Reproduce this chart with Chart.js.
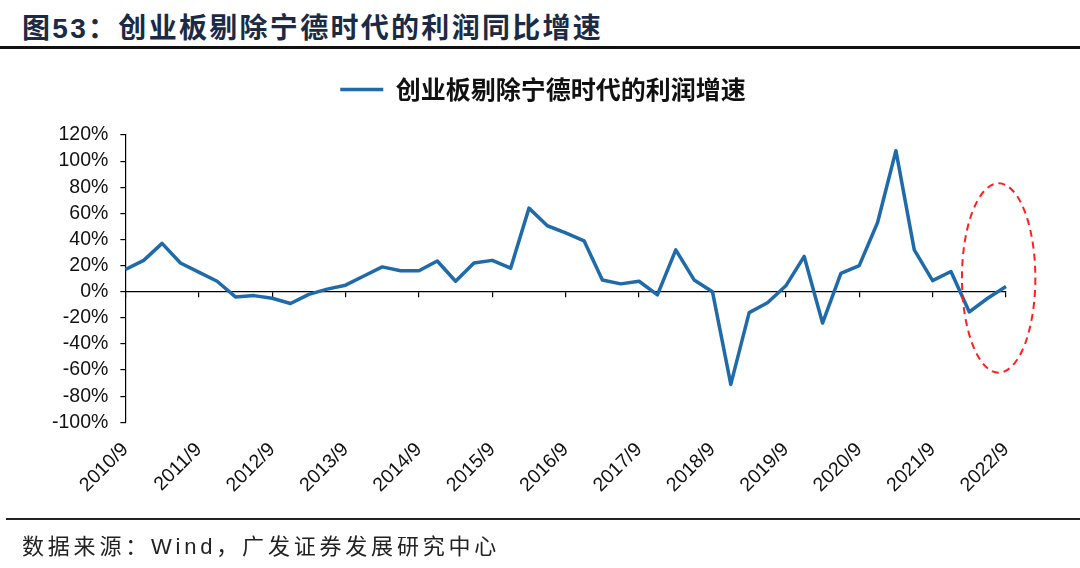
<!DOCTYPE html>
<html>
<head>
<meta charset="utf-8">
<script src="https://cdn.jsdelivr.net/npm/chart.js@4.4.0/dist/chart.umd.min.js"></script>
<style>
  html, body { margin: 0; padding: 0; background: #fff; }
  #page { position: relative; width: 1080px; height: 568px; overflow: hidden; font-family: "Liberation Sans", "Noto Sans CJK SC", sans-serif; }
  #title { position: absolute; left: 22px; top: 6px; font-size: 28px; font-weight: bold; color: #1b2a45; letter-spacing: 2.3px; white-space: nowrap; }
  #rule-top { position: absolute; left: 0; top: 46px; width: 1080px; height: 2.5px; background: #111; }
  #rule-bottom { position: absolute; left: 6px; top: 518px; width: 1074px; height: 1.5px; background: #222; }
  #source { position: absolute; left: 22px; top: 528px; font-size: 22px; color: #222; letter-spacing: 3.8px; white-space: nowrap; }
  #chart-canvas { position: absolute; left: 0; top: 0; }
</style>
</head>
<body>
<div id="page">
  <div id="title">图53：创业板剔除宁德时代的利润同比增速</div>
  <div id="rule-top"></div>
  <canvas id="chart-canvas" width="1080" height="568"></canvas>
  <div id="rule-bottom"></div>
  <div id="source">数据来源：Wind，广发证券发展研究中心</div>
</div>
<script>
const categories = [
  "2010/9", "2010/12", "2011/3", "2011/6",
  "2011/9", "2011/12", "2012/3", "2012/6",
  "2012/9", "2012/12", "2013/3", "2013/6",
  "2013/9", "2013/12", "2014/3", "2014/6",
  "2014/9", "2014/12", "2015/3", "2015/6",
  "2015/9", "2015/12", "2016/3", "2016/6",
  "2016/9", "2016/12", "2017/3", "2017/6",
  "2017/9", "2017/12", "2018/3", "2018/6",
  "2018/9", "2018/12", "2019/3", "2019/6",
  "2019/9", "2019/12", "2020/3", "2020/6",
  "2020/9", "2020/12", "2021/3", "2021/6",
  "2021/9", "2021/12", "2022/3", "2022/6",
  "2022/9"
];

const profitGrowth = [
  17, 24, 37, 22,
  15, 8, -4, -3,
  -5, -9, -2, 2,
  5, 12, 19, 16,
  16, 23.5, 8, 22,
  24, 18, 64, 50.5,
  45, 39, 9, 6,
  8, -2.5, 32, 9,
  0, -71, -16, -8.5,
  4.5, 27, -24, 14,
  20, 53, 108, 32,
  8.5, 15.5, -15.5, -5,
  4
];

const seriesName = "创业板剔除宁德时代的利润增速";
const yTicks = [-100, -80, -60, -40, -20, 0, 20, 40, 60, 80, 100, 120];

const blue = "#1f6aa8";
const tickFont = { family: "Liberation Sans", size: 19.5 };

// dashed red ring round the last quarters
const focusEllipse = {
  id: "focusEllipse",
  afterDatasetsDraw(chart) {
    const { ctx, scales } = chart;
    const left = scales.x.getPixelForValue(45.6);
    const right = scales.x.getPixelForValue(49.6);
    const top = scales.y.getPixelForValue(83);
    const bottom = scales.y.getPixelForValue(-62);
    ctx.save();
    ctx.beginPath();
    ctx.ellipse((left + right) / 2, (top + bottom) / 2, (right - left) / 2, (bottom - top) / 2, 0, 0, Math.PI * 2);
    ctx.setLineDash([7, 5]);
    ctx.strokeStyle = "#ff1f1f";
    ctx.lineWidth = 2;
    ctx.stroke();
    ctx.restore();
  },
};

// empty axes only used to reserve space
const spacer = {
  grid: { display: false, drawTicks: false },
  border: { display: false },
  ticks: { display: false },
};

const canvas = document.getElementById("chart-canvas");

new Chart(canvas, {
  type: "line",
  data: {
    labels: categories,
    datasets: [
      {
        label: seriesName,
        data: profitGrowth,
        borderColor: blue,
        backgroundColor: blue,
        borderWidth: 3.5,
        borderJoinStyle: "round",
        pointRadius: 0,
        tension: 0,
        clip: false,
      },
    ],
  },
  options: {
    responsive: false,
    animation: false,
    layout: {
      padding: { top: 45, left: 40, right: 34, bottom: 55 },
    },
    plugins: {
      legend: {
        position: "top",
        labels: {
          usePointStyle: true,
          pointStyle: "line",
          pointStyleWidth: 43,
          font: { family: "Noto Sans CJK SC", size: 25, weight: "bold" },
          color: "#111",
          padding: 32,
        },
      },
      tooltip: { enabled: false },
    },
    scales: {
      x: {
        position: { y: 0 },
        ticks: { display: false, autoSkip: false },
        grid: {
          drawOnChartArea: false,
          drawTicks: true,
          tickLength: 5,
          lineWidth: 1.2,
          color: (context) => (context.index % 4 === 0 ? "#000" : "rgba(0,0,0,0)"),
        },
        border: { color: "#000", width: 1.2 },
      },
      xLabels: {
        type: "category",
        position: "bottom",
        grid: { display: false, drawTicks: false },
        border: { display: false },
        ticks: {
          autoSkip: false,
          minRotation: 45,
          maxRotation: 45,
          padding: 16,
          font: tickFont,
          color: "#111",
          callback: (value, index) => (index % 4 === 0 ? categories[index] : null),
        },
      },
      xTop: {
        type: "category",
        position: "top",
        ...spacer,
        afterFit: (axis) => {
          axis.height = 23;
        },
      },
      y: {
        min: -100,
        max: 120,
        afterBuildTicks: (axis) => {
          axis.ticks = yTicks.map((v) => ({ value: v }));
        },
        ticks: {
          autoSkip: false,
          font: tickFont,
          color: "#111",
          padding: 12,
          callback: (value) => value + "%",
        },
        grid: { drawOnChartArea: false, tickLength: 5, color: "#000", lineWidth: 1.2 },
        border: { color: "#000", width: 1.2 },
      },
      yRight: {
        type: "linear",
        position: "right",
        ...spacer,
        afterFit: (axis) => {
          axis.width = 40;
        },
      },
    },
  },
  plugins: [focusEllipse],
});
</script>
</body>
</html>
